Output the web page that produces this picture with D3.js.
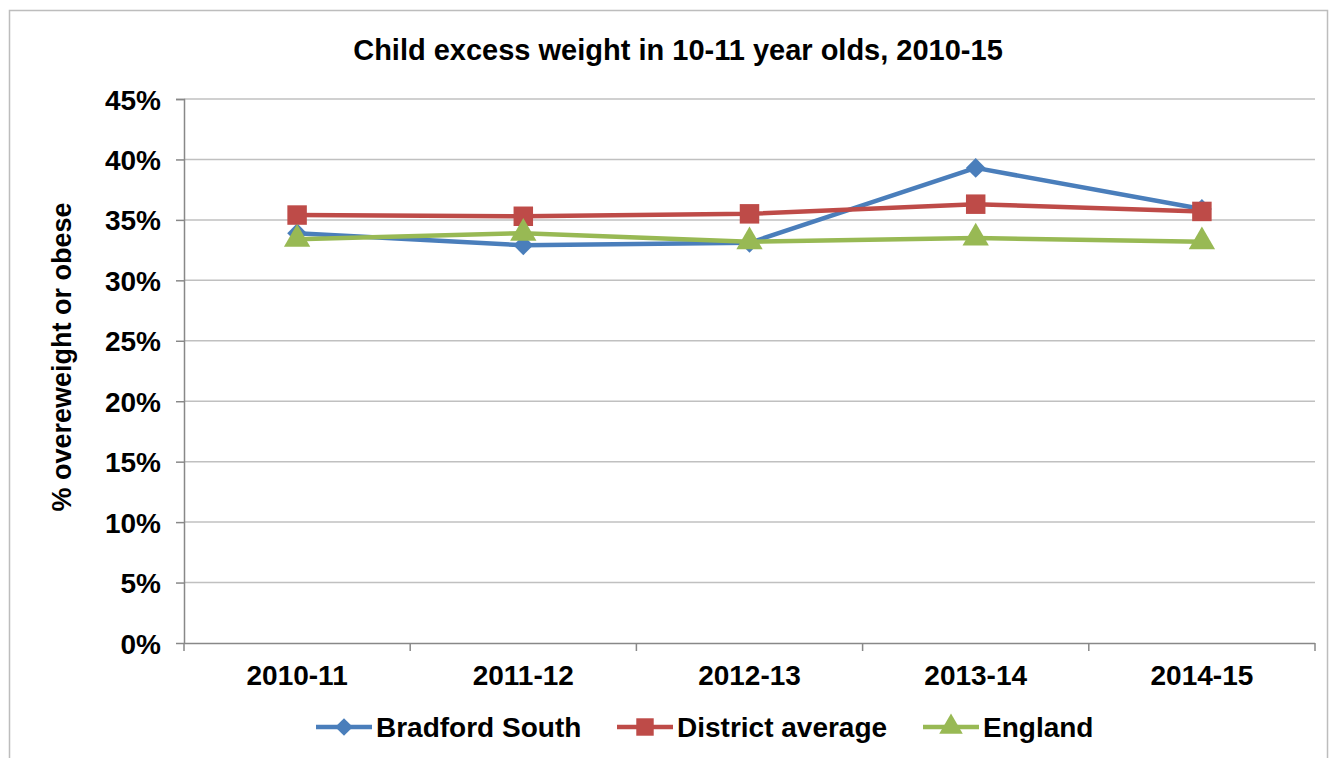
<!DOCTYPE html>
<meta charset="utf-8">
<style>
  body { margin: 0; background: #fff; }
  text { font-family: "Liberation Sans", Arial, sans-serif; font-weight: bold; fill: #000; }
</style>
<body>
<div id="my_dataviz"></div>
<script src="https://d3js.org/d3.v7.min.js"></script>
<script>

// Data
var years = ["2010-11", "2011-12", "2012-13", "2013-14", "2014-15"];
var bradfordSouth = [33.9, 32.9, 33.1, 39.3, 35.9];
var districtAverage = [35.4, 35.3, 35.5, 36.3, 35.7];
var england = [33.4, 33.9, 33.2, 33.5, 33.2];
var yTicks = [0, 5, 10, 15, 20, 25, 30, 35, 40, 45];

var series = [
  {name: "Bradford South", values: bradfordSouth, color: "#4a7ebb", symbol: d3.symbolDiamond2, size: 250},
  {name: "District average", values: districtAverage, color: "#be4b48", symbol: d3.symbolSquare, size: 380},
  {name: "England", values: england, color: "#98b954", symbol: d3.symbolTriangle, size: 300}
];

var W = 1337, H = 758;
var margin = {top: 99, right: 22, bottom: 115, left: 184},
    width = W - margin.left - margin.right,
    height = H - margin.top - margin.bottom;

var root = d3.select("#my_dataviz")
  .append("svg")
    .attr("width", W)
    .attr("height", H);

// outer chart border
root.append("rect")
  .attr("x", 9.5).attr("y", 10.5)
  .attr("width", W - 19).attr("height", H)
  .attr("fill", "none").attr("stroke", "#bdbdbd").attr("stroke-width", 1.5);

root.append("text")
  .attr("x", 678).attr("y", 60)
  .attr("text-anchor", "middle")
  .style("font-size", "29px")
  .text("Child excess weight in 10-11 year olds, 2010-15");

var svg = root.append("g")
  .attr("transform", "translate(" + margin.left + "," + margin.top + ")");

var x = d3.scaleBand().domain(years).range([0, width]);
var y = d3.scaleLinear().domain([0, 45]).range([height, 0]);

// gridlines
svg.append("g")
  .selectAll("line")
  .data(yTicks.slice(1))
  .join("line")
    .attr("x1", 0).attr("x2", width)
    .attr("y1", function(d) { return y(d); })
    .attr("y2", function(d) { return y(d); })
    .attr("stroke", "#c0c0c0").attr("stroke-width", 1.5);

// Y axis
var yAxis = svg.append("g")
  .call(d3.axisLeft(y).tickValues(yTicks).tickSize(8).tickPadding(15)
    .tickFormat(function(d) { return d + "%"; }));
yAxis.selectAll("text").style("font-size", "28px").attr("dy", "0.36em");

// X axis (ticks at band edges)
var xAxis = svg.append("g")
  .attr("transform", "translate(0," + height + ")")
  .call(d3.axisBottom(x).tickSize(0).tickPadding(22));
xAxis.selectAll("text").style("font-size", "28px").attr("dy", "0.71em");
xAxis.selectAll(".edge")
  .data(d3.range(years.length + 1))
  .join("line")
    .attr("x1", function(i) { return i * x.bandwidth(); })
    .attr("x2", function(i) { return i * x.bandwidth(); })
    .attr("y1", 0).attr("y2", 8)
    .attr("stroke", "#888").attr("stroke-width", 1.5);

svg.selectAll(".domain").attr("stroke", "#888").attr("stroke-width", 1.5);
yAxis.selectAll(".tick line").attr("stroke", "#888").attr("stroke-width", 1.5);
yAxis.select(".domain").attr("d", "M-8,0.5H0.5V" + (height + 0.5));
xAxis.select(".domain").attr("d", "M0," + 0.5 + "H" + width);

var line = d3.line()
  .x(function(d, i) { return x(years[i]) + x.bandwidth() / 2; })
  .y(function(d) { return y(d); });

series.forEach(function(s) {
  svg.append("path")
    .datum(s.values)
    .attr("fill", "none")
    .attr("stroke", s.color)
    .attr("stroke-width", 4.5)
    .attr("stroke-linejoin", "round")
    .attr("d", line);
  svg.selectAll(null)
    .data(s.values)
    .join("path")
      .attr("transform", function(d, i) {
        return "translate(" + (x(years[i]) + x.bandwidth() / 2) + "," + y(d) + ")";
      })
      .attr("d", d3.symbol().type(s.symbol).size(s.size))
      .attr("fill", s.color);
});

// Legend
var legendX = [316, 617, 923];
var legend = root.append("g");
series.forEach(function(s, i) {
  var g = legend.append("g").attr("transform", "translate(" + legendX[i] + ",727)");
  g.append("line").attr("x1", 0).attr("x2", 56).attr("y1", 0).attr("y2", 0)
    .attr("stroke", s.color).attr("stroke-width", 4.5);
  g.append("path").attr("transform", "translate(28,0)")
    .attr("d", d3.symbol().type(s.symbol).size(s.size * 0.8))
    .attr("fill", s.color);
  g.append("text").attr("x", 60).attr("y", 0).attr("dy", "0.36em")
    .style("font-size", "28px").text(s.name);
});

// Y axis label
root.append("text")
  .attr("transform", "translate(71,357) rotate(-90)")
  .attr("text-anchor", "middle")
  .style("font-size", "27px")
  .text("% overeweight or obese");

</script>
</body>
